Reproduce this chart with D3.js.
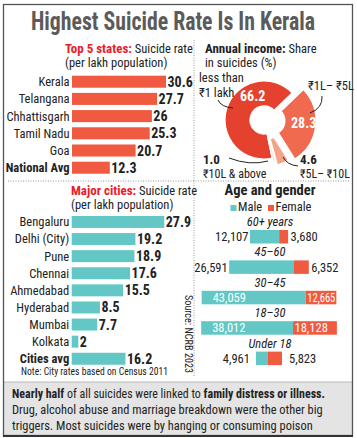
<!DOCTYPE html>
<html><head><meta charset="utf-8">
<script src="https://cdn.jsdelivr.net/npm/d3@7"></script>
<style>
html,body{margin:0;padding:0;background:#fff;}
svg text{font-family:"Liberation Sans Narrow","Roboto Condensed","DejaVu Sans Condensed","Arial Narrow",sans-serif;}
</style></head>
<body>
<svg id="c" width="357" height="438"></svg>
<script>
// ---- data ----
const states = ["Kerala","Telangana","Chhattisgarh","Tamil Nadu","Goa","National Avg"];
const stateRates = [30.6,27.7,26,25.3,20.7,12.3];
const cities = ["Bengaluru","Delhi (City)","Pune","Chennai","Ahmedabad","Hyderabad","Mumbai","Kolkata","Cities avg"];
const cityRates = [27.9,19.2,18.9,17.6,15.5,8.5,7.7,2,16.2];
const incomeGroups = ["less than ₹1 lakh","₹1L– ₹5L","₹5L– ₹10L","₹10L & above"];
const incomeShares = [66.2,28.3,4.6,1.0];
const ageGroups = ["60+ years","45–60","30–45","18–30","Under 18"];
const maleCounts = [12107,26591,43059,38012,4961];
const femaleCounts = [3680,6352,12665,18128,5823];

const RED = "#f05a40", TEAL = "#63c7c5", HEAD_RED = "#e8202a";
const svg = d3.select("#c");
const fmt = d3.format(",");
const FS = 12.5;

// ---- frame ----
svg.append("rect").attr("x",4).attr("y",382).attr("width",348).attr("height",53).attr("fill","#e4e4e4");
svg.append("line").attr("x1",4).attr("x2",352).attr("y1",382).attr("y2",382).attr("stroke","#aaa").attr("stroke-width",0.8);
svg.append("rect").attr("x",3.5).attr("y",4.5).attr("width",349).attr("height",431)
  .attr("fill","none").attr("stroke","#555").attr("stroke-width",1.3);
svg.append("line").attr("x1",3).attr("x2",353).attr("y1",436).attr("y2",436).attr("stroke","#333").attr("stroke-width",2);

// dotted dividers
svg.append("line").attr("x1",194).attr("x2",194).attr("y1",40).attr("y2",377)
  .attr("stroke","#999").attr("stroke-width",1).attr("stroke-dasharray","1,1.5");
svg.append("line").attr("x1",8).attr("x2",350).attr("y1",181).attr("y2",181)
  .attr("stroke","#999").attr("stroke-width",1).attr("stroke-dasharray","1,1.5");

// title
svg.append("text").attr("x",31).attr("y",30).attr("font-size",25).attr("font-weight","bold")
  .attr("fill","#5b5b5b").attr("textLength",284).attr("lengthAdjust","spacingAndGlyphs")
  .text("Highest Suicide Rate Is In Kerala");

// ---- helper for horizontal bar lists ----
function barList(opts){
  const g = svg.append("g");
  const h1 = g.append("text").attr("x",opts.hx).attr("y",opts.hy).attr("font-size",FS);
  h1.append("tspan").attr("font-weight","bold").attr("fill",HEAD_RED).attr("font-size",13).text(opts.head);
  h1.append("tspan").attr("fill","#222").text(" Suicide rate");
  g.append("text").attr("x",opts.hx).attr("y",opts.hy+14).attr("font-size",FS).attr("fill","#222")
    .text("(per lakh population)");
  const x = d3.scaleLinear().domain([0,opts.max]).range([0,opts.maxW]);
  const y = d3.scaleBand().domain(opts.cats).range(opts.yr).paddingInner(0.3).paddingOuter(0.15);
  opts.cats.forEach((c,i)=>{
    const v = opts.vals[i];
    g.append("rect").attr("x",opts.x0).attr("y",y(c)).attr("width",x(v)).attr("height",y.bandwidth()).attr("fill",opts.color);
    g.append("text").attr("x",opts.x0-2.5).attr("y",y(c)+y.bandwidth()/2+4.4).attr("text-anchor","end")
      .attr("font-size",FS).attr("fill","#222").attr("font-weight",i===opts.cats.length-1?"bold":"normal").text(c);
    g.append("text").attr("x",opts.x0+x(v)+1.5).attr("y",y(c)+y.bandwidth()/2+5)
      .attr("font-size",14).attr("font-weight","bold").attr("fill","#222").text(v);
  });
}
barList({head:"Top 5 states:",hx:65,hy:53,cats:states,vals:stateRates,max:30.6,maxW:94,x0:72,yr:[73.1,176.3],color:RED});
barList({head:"Major cities:",hx:71,hy:195,cats:cities,vals:cityRates,max:27.9,maxW:92.6,x0:71.7,yr:[213.4,367.3],color:TEAL});

// note + source
svg.append("text").attr("x",21).attr("y",375).attr("font-size",10).attr("fill","#222")
  .attr("textLength",147).attr("lengthAdjust","spacingAndGlyphs").text("Note: City rates based on Census 2011");
svg.append("text").attr("transform","translate(184.5,295) rotate(90)").attr("font-size",10).attr("fill","#222")
  .attr("textLength",78).attr("lengthAdjust","spacingAndGlyphs").text("Source: NCRB 2023");

// ---- donut ----
const dg = svg.append("g");
dg.append("text").attr("x",205).attr("y",53).attr("font-size",FS).attr("fill","#222")
  .call(t=>{t.append("tspan").attr("font-weight","bold").attr("font-size",13).text("Annual income:");t.append("tspan").text(" Share");});
dg.append("text").attr("x",205).attr("y",67).attr("font-size",FS).attr("fill","#222").text("in suicides (%)");

const cx = 264, cy = 120;
const a0 = 168*Math.PI/180;
const pie = d3.pie().sort(null).startAngle(a0).endAngle(a0+2*Math.PI);
const arcs = pie(incomeShares);
const sliceCols = ["#e5412f","#ef6a4e","#f5a286","#fcdcd0"];
const outerR = [39,45,41,40], offs = [0,7,6,3];
arcs.forEach((a,i)=>{
  const mid = (a.startAngle+a.endAngle)/2;
  const dx = offs[i]*Math.sin(mid), dy = -offs[i]*Math.cos(mid);
  const arc = d3.arc().innerRadius(14).outerRadius(outerR[i]);
  dg.append("path").attr("d",arc(a)).attr("transform",`translate(${cx+dx},${cy+dy})`)
    .attr("fill",sliceCols[i]).attr("stroke","#fff").attr("stroke-width",1.2);
});
// inside values
dg.append("text").attr("x",240).attr("y",101).attr("font-size",14).attr("font-weight","bold").attr("fill","#fff").text(incomeShares[0]);
dg.append("text").attr("x",291).attr("y",128).attr("font-size",14).attr("font-weight","bold").attr("fill","#fff").text(incomeShares[1]);
// outside labels
dg.append("text").attr("x",199).attr("y",82).attr("font-size",FS).attr("fill","#222").text("less than");
dg.append("text").attr("x",199).attr("y",97).attr("font-size",FS).attr("fill","#222").text("₹1 lakh");
dg.append("text").attr("x",308).attr("y",90).attr("font-size",FS).attr("fill","#222").text(incomeGroups[1]);
dg.append("text").attr("x",203).attr("y",164).attr("font-size",13).attr("font-weight","bold").attr("fill","#222").text(incomeShares[3].toFixed(1));
dg.append("text").attr("x",203).attr("y",177.5).attr("font-size",12).attr("fill","#222").text(incomeGroups[3]);
dg.append("text").attr("x",300).attr("y",164).attr("font-size",13).attr("font-weight","bold").attr("fill","#222").text(incomeShares[2]);
dg.append("text").attr("x",300).attr("y",177.5).attr("font-size",12).attr("fill","#222").text(incomeGroups[2]);
const conn = ["M218,100 Q221,107 233,108","M322,96 Q323,108 310,113","M229,158 Q250,166 268,161","M283,157 Q287,165 298,166"];
conn.forEach(p=>dg.append("path").attr("d",p).attr("fill","none").attr("stroke","#222").attr("stroke-width",1));

// ---- age & gender ----
const ag = svg.append("g");
const acx = 269;
ag.append("text").attr("x",270).attr("y",195).attr("text-anchor","middle").attr("font-size",14.5).attr("font-weight","bold").attr("fill","#222").text("Age and gender");
ag.append("rect").attr("x",230.5).attr("y",205).attr("width",6).attr("height",6).attr("fill",TEAL);
ag.append("text").attr("x",238).attr("y",211).attr("font-size",FS).attr("fill","#222").text("Male");
ag.append("rect").attr("x",268).attr("y",205).attr("width",6).attr("height",6).attr("fill",RED);
ag.append("text").attr("x",275.5).attr("y",211).attr("font-size",FS).attr("fill","#222").text("Female");
const maxTot = d3.max(ageGroups.map((d,i)=>maleCounts[i]+femaleCounts[i]));
const w = d3.scaleLinear().domain([0,maxTot]).range([0,135.7]);
const ay = d3.scaleBand().domain(ageGroups).range([216,368]);
ageGroups.forEach((gname,i)=>{
  const top = ay(gname);
  const tot = w(maleCounts[i]+femaleCounts[i]);
  const x0 = acx - tot/2, split = x0 + w(maleCounts[i]), x1 = x0 + tot;
  ag.append("text").attr("x",270).attr("y",top+10).attr("text-anchor","middle").attr("font-size",FS)
    .attr("font-style","italic").attr("fill","#222").text(gname);
  ag.append("rect").attr("x",x0).attr("y",top+14).attr("width",split-x0).attr("height",13.5).attr("fill",TEAL);
  ag.append("rect").attr("x",split).attr("y",top+14).attr("width",x1-split).attr("height",13.5).attr("fill",RED);
  const by = top+14+11.2;
  const big = tot > 100;
  if(big){
    ag.append("text").attr("x",x0+11).attr("y",by).attr("font-size",FS).attr("fill","#fff").text(fmt(maleCounts[i]));
    const ft = ag.append("text").attr("x",split+1.5).attr("y",by).attr("font-size",FS).attr("fill","#fff").text(fmt(femaleCounts[i]));
    const avail = x1 - split - 2.5;
    if(ft.node().getComputedTextLength() > avail) ft.attr("textLength",avail).attr("lengthAdjust","spacingAndGlyphs");
  } else {
    const gap = tot < 30 ? 6 : 1.5;
    ag.append("text").attr("x",x0-gap).attr("y",by).attr("text-anchor","end").attr("font-size",FS).attr("fill","#222").text(fmt(maleCounts[i]));
    ag.append("text").attr("x",x1+gap+1).attr("y",by).attr("font-size",FS).attr("fill","#222").text(fmt(femaleCounts[i]));
  }
});

// ---- bottom text (each line fitted horizontally to its width in the reference) ----
const bt = svg.append("g").attr("font-size",13.5).attr("fill","#222");
function fitLine(y, width, build){
  const t = bt.append("text").attr("x",0).attr("y",0);
  build(t);
  const natural = t.node().getComputedTextLength();
  const k = Math.min(1, width/natural);
  t.attr("transform",`translate(12,${y}) scale(${k},1)`);
}
fitLine(398, 313, t=>{
  t.append("tspan").attr("font-weight","bold").text("Nearly half");
  t.append("tspan").text(" of all suicides were linked to ");
  t.append("tspan").attr("font-weight","bold").text("family distress or illness.");
});
fitLine(414, 311, t=>t.text("Drug, alcohol abuse and marriage breakdown were the other big"));
fitLine(430, 301, t=>t.text("triggers. Most suicides were by hanging or consuming poison"));
</script>
</body></html>
